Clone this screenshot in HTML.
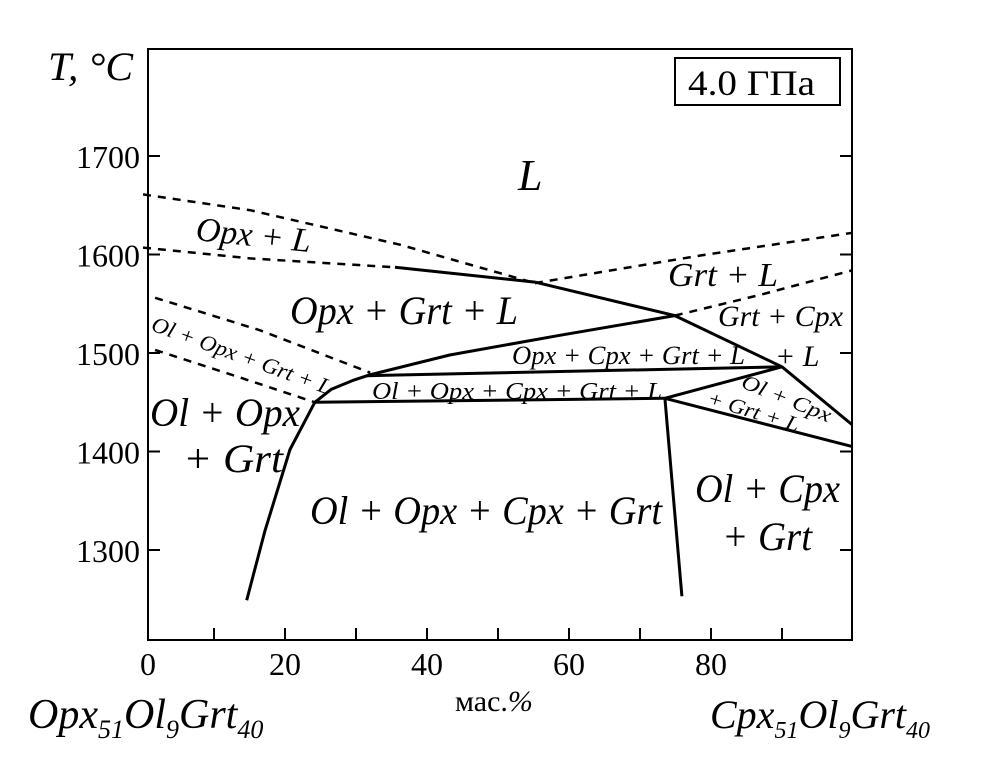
<!DOCTYPE html>
<html><head><meta charset="utf-8"><style>
html,body{margin:0;padding:0;background:#fff}
svg{display:block;font-family:"Liberation Serif",serif}
.it{font-style:italic}
</style></head><body>
<svg id="chart" width="1004" height="772" viewBox="0 0 1004 772" xmlns="http://www.w3.org/2000/svg">
<rect x="148" y="49" width="704" height="591" fill="none" stroke="#000" stroke-width="2"/>
<g id="ticks"></g>
<g id="curves"></g>
<rect x="675" y="58" width="165" height="47" fill="#fff" stroke="#000" stroke-width="2"/>
<text x="688" y="95" font-size="36" textLength="127" lengthAdjust="spacingAndGlyphs">4.0 ГПа</text>
<text x="48" y="80" font-size="40" class="it" textLength="85" lengthAdjust="spacingAndGlyphs">T, °C</text>
<text x="455" y="711" font-size="30">мас.<tspan font-style="italic">%</tspan></text>
<text x="28" y="728" font-size="42" class="it">Opx<tspan font-size="26" dy="10">51</tspan><tspan dy="-10">Ol</tspan><tspan font-size="26" dy="10">9</tspan><tspan dy="-10">Grt</tspan><tspan font-size="26" dy="10">40</tspan></text>
<text x="710" y="728" font-size="40" class="it">Cpx<tspan font-size="24" dy="10">51</tspan><tspan dy="-10">Ol</tspan><tspan font-size="24" dy="10">9</tspan><tspan dy="-10">Grt</tspan><tspan font-size="24" dy="10">40</tspan></text>
<g class="it">
<text x="518" y="190" font-size="44">L</text>
<text x="195" y="240" font-size="34" transform="rotate(6 195 240)">Opx + L</text>
<text x="290" y="324" font-size="40" textLength="228" lengthAdjust="spacingAndGlyphs">Opx + Grt + L</text>
<text x="150" y="330" font-size="22" textLength="190" lengthAdjust="spacingAndGlyphs" transform="rotate(20 150 330)">Ol + Opx + Grt + L</text>
<text x="150" y="426" font-size="40" textLength="150" lengthAdjust="spacingAndGlyphs">Ol + Opx</text>
<text x="183" y="472" font-size="40" textLength="100" lengthAdjust="spacingAndGlyphs">+ Grt</text>
<text x="310" y="524" font-size="40" textLength="352" lengthAdjust="spacingAndGlyphs">Ol + Opx + Cpx + Grt</text>
<text x="695" y="502" font-size="40" textLength="145" lengthAdjust="spacingAndGlyphs">Ol + Cpx</text>
<text x="722" y="550" font-size="40" textLength="90" lengthAdjust="spacingAndGlyphs">+ Grt</text>
<text x="668" y="286" font-size="34" textLength="110" lengthAdjust="spacingAndGlyphs">Grt + L</text>
<text x="718" y="326" font-size="30" textLength="125" lengthAdjust="spacingAndGlyphs">Grt + Cpx</text>
<text x="775" y="366" font-size="30">+ L</text>
<text x="512" y="364" font-size="26" textLength="233" lengthAdjust="spacingAndGlyphs">Opx + Cpx + Grt + L</text>
<text x="372" y="399" font-size="24" textLength="290" lengthAdjust="spacingAndGlyphs">Ol + Opx + Cpx + Grt + L</text>
<text x="740" y="387" font-size="21" textLength="95" lengthAdjust="spacingAndGlyphs" transform="rotate(22 740 387)">Ol + Cpx</text>
<text x="706" y="404" font-size="21" textLength="95" lengthAdjust="spacingAndGlyphs" transform="rotate(17 706 404)">+ Grt + L</text>
</g>
</svg>
<script>
const xTicks = [0,10,20,30,40,50,60,70,80,90];
const xTickLabels = ["0","","20","","40","","60","","80",""];
const yTicks = [1300,1400,1500,1600,1700];
const yTickLabels = ["1300","1400","1500","1600","1700"];
const liquidus = [[35.5,1587],[55.2,1572],[74.9,1538],[90,1486],[99.9,1427]];
const dashOpxUpper = [[0,1661],[15.1,1645],[36.2,1610],[55.2,1571]];
const dashOpxLower = [[0,1607],[15.1,1596],[35.5,1587]];
const dashGrtUpper = [[55.2,1571],[78.5,1599],[99.9,1622]];
const dashGrtLower = [[74.9,1538],[86.9,1559],[99.9,1584]];
const dashOlUpper = [[1.7,1556],[16.5,1523],[32,1480]];
const dashOlLower = [[1.7,1503],[13.7,1475],[24.2,1450]];
const opxSolidus = [[24.2,1450],[26.5,1463],[29.5,1472],[32,1478],[43.2,1498],[58.7,1518],[74.9,1538]];
const cpxTieLine = [[31.5,1477],[90,1486]];
const solidusFlat = [[24.2,1450],[73.5,1454]];
const peritecticUp = [[73.5,1454],[90,1486]];
const peritecticDown = [[73.5,1454],[99.9,1405]];
const cpxBoundary = [[73.5,1454],[75.9,1253]];
const olBoundary = [[24.2,1450],[20.7,1402],[17.2,1320],[14.6,1249]];

const NS="http://www.w3.org/2000/svg";
function X(v){return 143+7.1*v;}
function Y(t){return 156+(1700-t)*0.985;}
const tg=document.getElementById('ticks');
xTicks.forEach((v,i)=>{
  if(v>0){
    const l=document.createElementNS(NS,'line');
    l.setAttribute('x1',X(v));l.setAttribute('x2',X(v));
    l.setAttribute('y1',640);l.setAttribute('y2',628);
    l.setAttribute('stroke','#000');l.setAttribute('stroke-width',2);
    
    
    tg.appendChild(l);
  }
  if(xTickLabels[i]){
    const t=document.createElementNS(NS,'text');
    t.setAttribute('x',v===0?148:X(v));t.setAttribute('y',675);
    t.setAttribute('font-size',32);t.setAttribute('text-anchor','middle');
    t.textContent=xTickLabels[i];
    
    
    tg.appendChild(t);
  }
});
yTicks.forEach((v,i)=>{
  [[148,160],[840,852]].forEach(p=>{
    const l=document.createElementNS(NS,'line');
    l.setAttribute('x1',p[0]);l.setAttribute('x2',p[1]);
    l.setAttribute('y1',Y(v));l.setAttribute('y2',Y(v));
    l.setAttribute('stroke','#000');l.setAttribute('stroke-width',2);
    
    
    tg.appendChild(l);
  });
  const t=document.createElementNS(NS,'text');
  t.setAttribute('x',140);t.setAttribute('y',Y(v)+12);
  t.setAttribute('font-size',32);t.setAttribute('text-anchor','end');
  t.textContent=yTickLabels[i];
  
  
  tg.appendChild(t);
});
const cg=document.getElementById('curves');
function draw(pts,dashed,name){
  const p=document.createElementNS(NS,'polyline');
  p.setAttribute('points',pts.map(d=>X(d[0]).toFixed(1)+','+Y(d[1]).toFixed(1)).join(' '));
  p.setAttribute('fill','none');p.setAttribute('stroke','#000');
  p.setAttribute('stroke-width',dashed?2.5:3);
  p.setAttribute('stroke-linejoin','round');
  if(dashed)p.setAttribute('stroke-dasharray','8,7');
  
  
  cg.appendChild(p);
}
draw(liquidus,false,'liquidus');
draw(dashOpxUpper,true,'opx-liquidus-upper');
draw(dashOpxLower,true,'opx-liquidus-lower');
draw(dashGrtUpper,true,'grt-liquidus-upper');
draw(dashGrtLower,true,'grt-liquidus-lower');
draw(dashOlUpper,true,'ol-boundary-upper');
draw(dashOlLower,true,'ol-boundary-lower');
draw(opxSolidus,false,'opx-solidus');
draw(cpxTieLine,false,'cpx-in-line');
draw(solidusFlat,false,'solidus-line');
draw(peritecticUp,false,'peritectic-upper');
draw(peritecticDown,false,'peritectic-lower');
draw(cpxBoundary,false,'opx-out-boundary');
draw(olBoundary,false,'ol-boundary');
</script>
</body></html>
